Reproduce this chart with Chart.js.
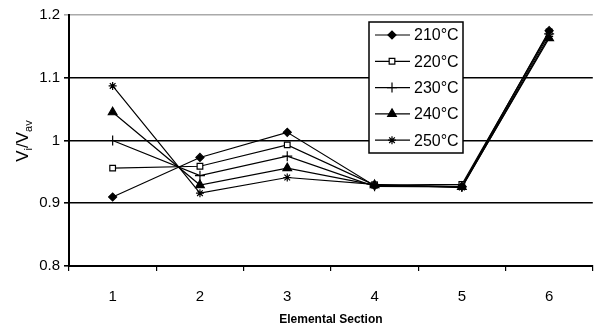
<!DOCTYPE html>
<html>
<head>
<meta charset="utf-8">
<script src="https://cdn.jsdelivr.net/npm/chart.js@4.4.0/dist/chart.umd.min.js"></script>
<style>
  html, body { margin: 0; padding: 0; background: #fff; }
  #wrap { width: 599px; height: 331px; }
</style>
</head>
<body>
<div id="wrap"><canvas id="chart"></canvas></div>
<script>
const sections = ["1", "2", "3", "4", "5", "6"];
const seriesNames = ["210°C", "220°C", "230°C", "240°C", "250°C"];
const v210 = [0.91, 0.973, 1.013, 0.928, 0.927, 1.175];
const v220 = [0.956, 0.959, 0.993, 0.929, 0.93, 1.173];
const v230 = [1.0, 0.944, 0.975, 0.927, 0.926, 1.17];
const v240 = [1.045, 0.929, 0.956, 0.929, 0.926, 1.163];
const v250 = [1.087, 0.916, 0.941, 0.93, 0.925, 1.166];
const yTicks = [0.8, 0.9, 1, 1.1, 1.2];
const yTickLabels = ["0.8", "0.9", "1", "1.1", "1.2"];

const styles = [
  { pointStyle: "rectRot", radius: 4, fill: "#000" },
  { pointStyle: "rect", radius: 4, fill: "#fff" },
  { pointStyle: "cross", radius: 5, fill: "#000" },
  { pointStyle: "triangle", radius: 5, fill: "#000" },
  { pointStyle: "star", radius: 4, fill: "#000" },
];

const values = [v210, v220, v230, v240, v250];
const font = "'Liberation Sans', Arial, sans-serif";

const datasets = values.map((v, i) => ({
  label: seriesNames[i],
  data: v,
  borderColor: "#000",
  borderWidth: 1.2,
  pointStyle: styles[i].pointStyle,
  pointRadius: styles[i].radius,
  pointBackgroundColor: styles[i].fill,
  pointBorderColor: "#000",
  pointBorderWidth: 1.2,
  tension: 0,
}));

// legend box inside the plot, plus the y title with subscripts
const extras = {
  id: "extras",
  afterDraw(chart) {
    const ctx = chart.ctx;
    ctx.save();
    // legend
    const bx = 369, by = 22, bw = 94, bh = 131;
    ctx.fillStyle = "#fff";
    ctx.fillRect(bx, by, bw, bh);
    ctx.strokeStyle = "#000";
    ctx.lineWidth = 1.5;
    ctx.strokeRect(bx, by, bw, bh);
    chart.data.datasets.forEach((ds, i) => {
      const y = by + 13 + i * 26.3;
      ctx.strokeStyle = "#000";
      ctx.lineWidth = 1.2;
      ctx.beginPath();
      ctx.moveTo(375, y);
      ctx.lineTo(410, y);
      ctx.stroke();
      ctx.fillStyle = ds.pointBackgroundColor;
      ctx.strokeStyle = "#000";
      Chart.helpers.drawPoint(ctx, {
        pointStyle: ds.pointStyle, radius: ds.pointRadius, rotation: 0, borderWidth: 1.2
      }, 392, y);
      ctx.fillStyle = "#000";
      ctx.font = "16px " + font;
      ctx.textBaseline = "middle";
      ctx.textAlign = "left";
      ctx.fillText(ds.label, 414, y + 1);
    });
    // y axis title: V_i/V_av
    ctx.translate(22, 141);
    ctx.rotate(-Math.PI / 2);
    const parts = [["V", 17, 0], ["i", 11, 4], ["/V", 17, 0], ["av", 11, 4]];
    let total = 0;
    parts.forEach(p => { ctx.font = p[1] + "px " + font; total += ctx.measureText(p[0]).width; });
    let x = -total / 2;
    ctx.fillStyle = "#000";
    ctx.textAlign = "left";
    ctx.textBaseline = "alphabetic";
    parts.forEach(p => {
      ctx.font = p[1] + "px " + font;
      ctx.fillText(p[0], x, 6 + p[2]);
      x += ctx.measureText(p[0]).width;
    });
    ctx.restore();
  }
};

new Chart(document.getElementById("chart"), {
  type: "line",
  data: { labels: sections, datasets: datasets },
  options: {
    responsive: true,
    maintainAspectRatio: false,
    animation: false,
    layout: { padding: { top: 15, right: 0, left: 0, bottom: 4 } },
    plugins: {
      legend: { display: false },
      tooltip: { enabled: false },
    },
    scales: {
      x: {
        offset: true,
        afterFit: (s) => { s.height = 61; },
        grid: { offset: true, drawOnChartArea: false, color: "#000", tickLength: 5, lineWidth: 1.2 },
        border: { display: true, color: "#000", width: 2 },
        ticks: { color: "#000", font: { family: font, size: 15 }, padding: 17 },
        title: {
          display: true, text: "Elemental Section", color: "#000",
          font: { family: font, size: 12, weight: "bold" }, padding: { top: 4, bottom: 0 }
        },
      },
      y: {
        min: 0.8,
        max: 1.2,
        afterBuildTicks: (s) => { s.ticks = yTicks.map(v => ({ value: v })); },
        afterFit: (s) => { s.width = 69; },
        grid: {
          color: (c) => (c.tick && c.tick.value === 1.2 ? "#aaa" : "#000"),
          lineWidth: 1.6,
          tickLength: 5,
        },
        border: { display: true, color: "#000", width: 2 },
        ticks: {
          color: "#000", font: { family: font, size: 15 }, padding: 4,
          callback: (v, i) => yTickLabels[i],
        },
      },
    },
  },
  plugins: [extras],
});
</script>
</body>
</html>
